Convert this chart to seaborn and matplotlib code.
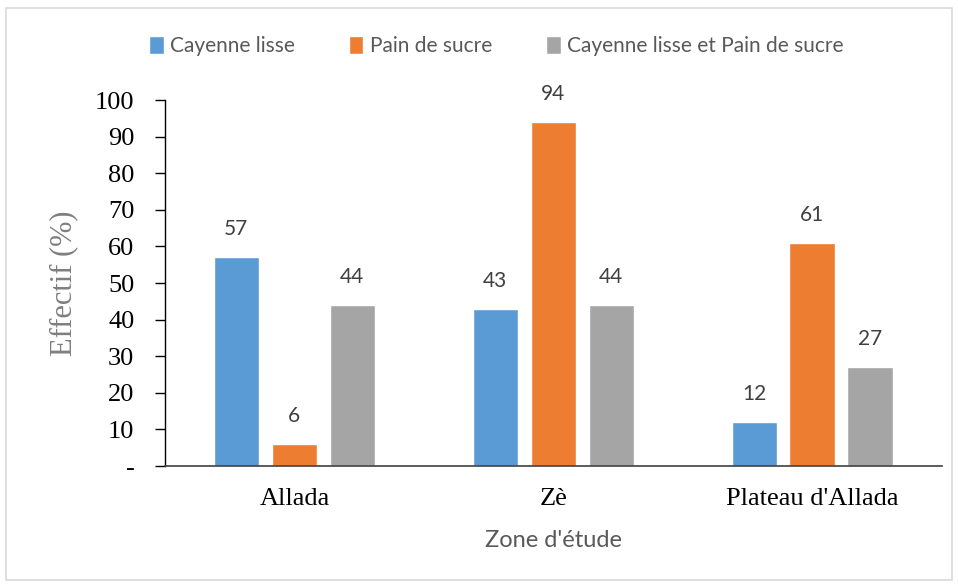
import pandas as pd
import seaborn as sns
import matplotlib.pyplot as plt
from matplotlib.patches import Rectangle

# data
zones = ["Allada", "Zè", "Plateau d'Allada"]
varietes = ["Cayenne lisse", "Pain de sucre", "Cayenne lisse et Pain de sucre"]
cayenne = [57, 43, 12]
pain = [6, 94, 61]
mixte = [44, 44, 27]
yticks = [0, 10, 20, 30, 40, 50, 60, 70, 80, 90, 100]
ytick_labels = ["-", "10", "20", "30", "40", "50", "60", "70", "80", "90", "100"]
couleurs = ["#5B9BD5", "#ED7D31", "#A5A5A5"]

df = pd.DataFrame({
    "zone": zones * 3,
    "variete": [varietes[0]] * 3 + [varietes[1]] * 3 + [varietes[2]] * 3,
    "effectif": cayenne + pain + mixte,
})

sns.set_style("white")
serif = ["Liberation Serif", "DejaVu Serif"]
sans = ["Lato", "DejaVu Sans"]

fig = plt.figure(figsize=(9.58, 5.85), dpi=100)
ax = fig.add_axes([0.1722, 0.2034, 0.8106, 0.6256])

sns.barplot(data=df, x="zone", y="effectif", hue="variete", hue_order=varietes,
            palette=couleurs, width=0.672, gap=0.22, saturation=1, ax=ax, legend=True)

for cont in ax.containers:
    ax.bar_label(cont, padding=13, fontsize=15, color="#404040", fontfamily=sans)

ax.set_ylim(0, 100)
ax.set_xlim(-0.5, 2.5)
ax.set_yticks(yticks)
ax.set_yticklabels(ytick_labels, fontfamily=serif, fontsize=19, color="black")
ax.set_xticks(range(3))
ax.set_xticklabels(zones, fontfamily=serif, fontsize=19, color="black")
ax.tick_params(axis="y", direction="out", length=7, width=1, color="black", pad=15, left=True)
ax.tick_params(axis="x", length=0, pad=16)

ax.set_ylabel("Effectif (%)", fontfamily=serif, fontsize=22, color="#7F7F7F", labelpad=12)
ax.set_xlabel("Zone d'étude", fontfamily=sans, fontsize=17, color="#595959", labelpad=14)

sns.despine(ax=ax, top=True, right=True)
ax.spines["left"].set_color("black")
ax.spines["bottom"].set_color("#404040")
ax.spines["left"].set_linewidth(1)
ax.spines["bottom"].set_linewidth(1.2)

ax.legend(loc="center", bbox_to_anchor=(0.518, 0.921), bbox_transform=fig.transFigure,
          ncol=3, frameon=False, handlelength=0.7, handleheight=0.9, handletextpad=0.3,
          columnspacing=2.6, prop={"family": sans, "size": 15}, labelcolor="#595959")

fig.patches.append(Rectangle((0.006, 0.008), 0.988, 0.978, transform=fig.transFigure,
                             fill=False, edgecolor="#D9D9D9", linewidth=1.2))

fig.savefig("out.png", dpi=100)
